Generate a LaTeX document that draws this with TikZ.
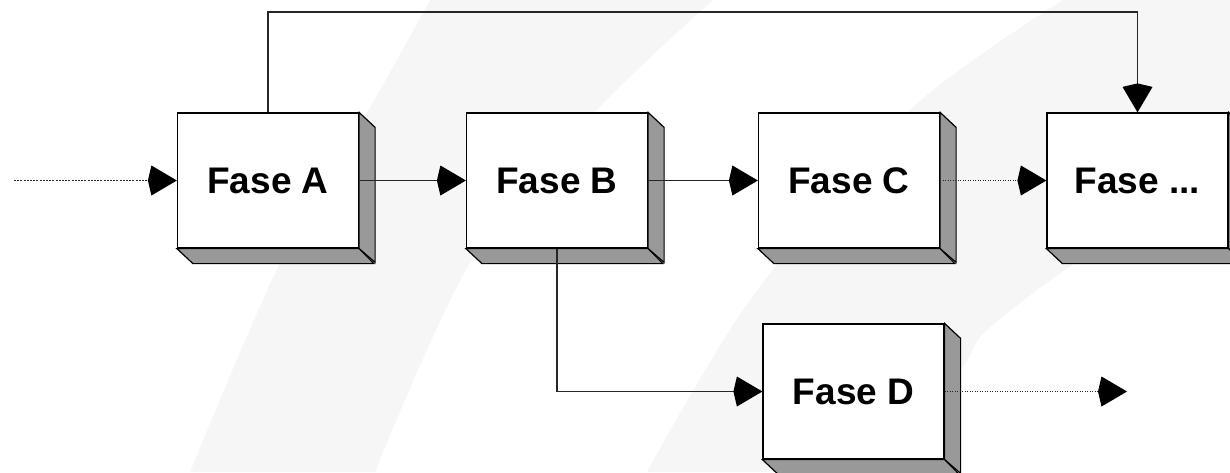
\documentclass[tikz,border=0pt]{standalone}
\usepackage{fontspec}
\setmainfont{Liberation Sans}
\usepackage{tikz}
\usetikzlibrary{arrows.meta}
\definecolor{swoosh}{RGB}{246,246,246}
\definecolor{faceside}{RGB}{153,153,153}

\begin{document}
\begin{tikzpicture}[line cap=butt,line join=miter,x=1pt,y=1pt,
  >={Kite[length=29pt,width=30pt,inset=3.5pt,color=black]},
  fase/.style={draw=black,line width=1.2pt,fill=white,minimum width=181pt,minimum height=135pt,
    inner sep=0pt,font=\fontsize{37}{40}\selectfont\bfseries},
  face/.style={draw=black,line width=1.2pt,fill=faceside},
  flow/.style={->,line width=1.2pt,color=black!85},
  flowdash/.style={flow,dash pattern=on 2pt off 1.2pt},
  flowdot/.style={flow,dash pattern=on 1.2pt off 1.3pt}]
\useasboundingbox (0,0) rectangle (1230,472);
\clip (0,0) rectangle (1230,472);
% background
\fill[swoosh] plot[smooth] coordinates {(190,0) (280,209) (380,382) (430,472)}
  -- plot[smooth] coordinates {(713,472) (597,362) (470,209) (375,0)} -- cycle;
\fill[swoosh] plot[smooth] coordinates {(647,0) (750,172) (910,362) (1063,472)}
  -- (1230,472) -- plot[smooth] coordinates {(1230,302) (1080,212) (987,142) (960,102) (870,0)} -- cycle;
% phases
\node[fase] (a) at (268,291.5) {Fase A};
\node[fase] (b) at (557,291.5) {Fase B};
\node[fase] (c) at (849,291.5) {Fase C};
\node[fase] (x) at (1137.5,291.5) {Fase ...};
\node[fase] (d) at (853.5,80.5) {Fase D};
\foreach \n in {a,b,c,x,d}
{
\draw[face] (\n.north east) -- ++(16,-15) -- ++(0,-135) -- (\n.south east) -- cycle;
\draw[face] (\n.south west) -- ++(16,-15) -- ++(181,0) -- (\n.south east) -- cycle;
}
\coordinate (in) at (14,291.5);
\coordinate (out) at (1127,80.5);
\coordinate (top) at (0,460);
% flows
\draw[flowdash] (in) -- (a.west);
\draw[flow] (a.east) -- (b.west);
\draw[flow] (b.east) -- (c.west);
\draw[flowdot] (c.east) -- (x.west);
\draw[flow] (a.north) -- (a.north |- top) -| (x.north);
\draw[flow] (b.south) |- (d.west);
\draw[flowdot] (d.east) -- (out);
\end{tikzpicture}
\end{document}
